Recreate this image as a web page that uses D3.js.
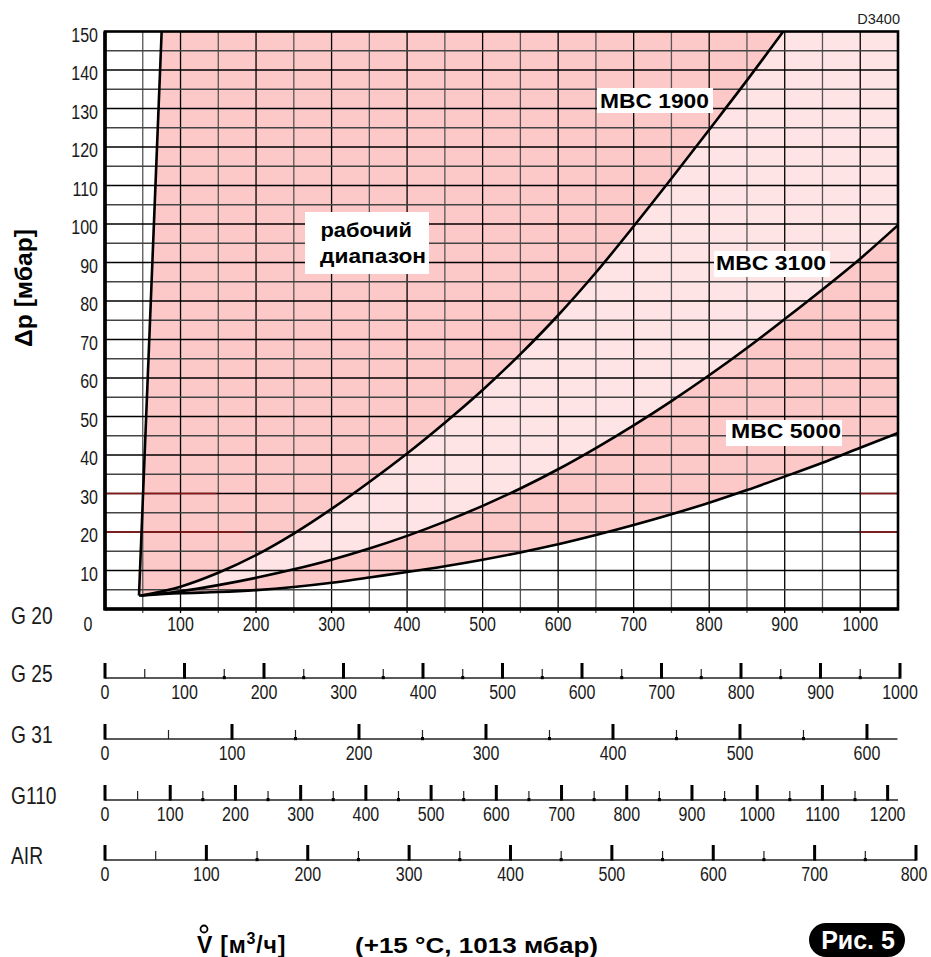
<!DOCTYPE html>
<html>
<head>
<meta charset="utf-8">
<script src="https://cdn.jsdelivr.net/npm/d3@7"></script>
<style>
  body { margin: 0; background: #fff; }
</style>
</head>
<body>
<div id="chart"></div>
<script>
// G20 flow [m3/h] vs pressure drop [mbar]
const flow = [48, 100, 150, 200, 250, 300, 350, 400, 450, 500, 550, 600, 650, 700, 750, 800, 850, 900, 950, 1000, 1050];
const mbc1900Flow = [48, 100, 150, 200, 250, 300, 350, 400, 450, 500, 550, 600, 650, 700, 750, 800, 850, 898];
const mbc1900Dp = [3.5, 5.8, 9.4, 14, 19.6, 26, 33, 40.4, 48.4, 56.9, 66.2, 76.3, 87.4, 99.4, 111.8, 124.5, 137.3, 150];
const mbc3100Dp = [3.5, 4.6, 6.2, 8.1, 10.3, 12.8, 15.7, 19, 22.7, 26.8, 31.3, 36.3, 41.8, 47.7, 54, 60.7, 67.8, 75.3, 83, 91, 99.7];
const mbc5000Dp = [3.5, 4.1, 4.4, 4.9, 5.7, 6.8, 8.2, 9.6, 11.1, 12.8, 14.7, 16.8, 19.2, 21.8, 24.6, 27.6, 30.9, 34.4, 38, 41.9, 45.7];
const limitFlow = [45, 75];
const limitDp = [3.5, 150];

const xTicks = [100, 200, 300, 400, 500, 600, 700, 800, 900, 1000];
const yTicks = [10, 20, 30, 40, 50, 60, 70, 80, 90, 100, 110, 120, 130, 140, 150];

// other gases, flow relative to G20
const gasNames = ["G 25", "G 31", "G110", "AIR"];
const gasFactors = [0.95, 0.5947, 1.158, 0.745];
const gasMax = [1000, 624, 1216, 800];
const gasLabels = [
  [0, 100, 200, 300, 400, 500, 600, 700, 800, 900, 1000],
  [0, 100, 200, 300, 400, 500, 600],
  [0, 100, 200, 300, 400, 500, 600, 700, 800, 900, 1000, 1100, 1200],
  [0, 100, 200, 300, 400, 500, 600, 700, 800]
];

const width = 931, height = 957;
const sans = "'Liberation Sans', Arial, Helvetica, sans-serif";
const squeeze = 0.8; // condensed look for the thin labels

let svg = d3.select("#chart").append("svg")
  .attr("width", width).attr("height", height);

let x = d3.scaleLinear().domain([0, 1050]).range([105, 898]);
let y = d3.scaleLinear().domain([0, 150]).range([609, 31.5]);

// thin condensed text, drawn from a scaled origin
const thin = (sel, px) => sel
  .style("font-family", sans).style("font-size", px + "px").attr("fill", "#1a1a1a");
const at = (tx, ty) => "translate(" + tx + "," + ty + ") scale(" + squeeze + ",1)";

const pts = (fx, dy) => fx.map((v, i) => [v, dy[i]]);
let c1900 = pts(mbc1900Flow, mbc1900Dp),
    c3100 = pts(flow, mbc3100Dp),
    c5000 = pts(flow, mbc5000Dp),
    limit = pts(limitFlow, limitDp);

let line = d3.line().x(d => x(d[0])).y(d => y(d[1])).curve(d3.curveCatmullRom.alpha(0.5));
const back = p => line(p.slice().reverse()).replace(/^M/, "L");
const xMax = x.domain()[1], yMax = y.domain()[1];

// working range fill (dark) and the band between 1900 and 3100 (light)
let darkPath = "M" + x(limit[0][0]) + "," + y(limit[0][1]) +
  "L" + x(limit[1][0]) + "," + y(limit[1][1]) +
  "L" + x(xMax) + "," + y(yMax) +
  "L" + x(xMax) + "," + y(c5000[c5000.length - 1][1]) +
  back(c5000) + "Z";
let lightPath = line(c1900) +
  "L" + x(xMax) + "," + y(yMax) +
  "L" + x(xMax) + "," + y(c3100[c3100.length - 1][1]) +
  back(c3100) + "Z";

svg.append("path").attr("d", darkPath).attr("fill", "#fdc8c8");
svg.append("path").attr("d", lightPath).attr("fill", "#fee4e4");

// grid
let grid = svg.append("g");
grid.selectAll(".vg").data(d3.range(50, xMax, 50)).enter().append("line")
  .attr("x1", d => x(d)).attr("x2", d => x(d))
  .attr("y1", y(0) + 4).attr("y2", y(yMax))
  .attr("stroke", d => d % 100 === 0 ? "#000" : "#555")
  .attr("stroke-width", 1.3);
grid.selectAll(".hg").data(d3.range(5, yMax, 5)).enter().append("line")
  .attr("x1", x(0)).attr("x2", x(xMax))
  .attr("y1", d => y(d)).attr("y2", d => y(d))
  .attr("stroke", d => d % 10 === 0 ? "#000" : "#444")
  .attr("stroke-width", 1.3);

// dark red pieces of the 20 / 30 rows
const accentRows = [[30, 0, 148], [20, 0, 185], [30, 1000, 1050], [20, 1000, 1050]];
grid.selectAll(".acc").data(accentRows).enter().append("line")
  .attr("x1", d => x(d[1])).attr("x2", d => x(d[2]))
  .attr("y1", d => y(d[0])).attr("y2", d => y(d[0]))
  .attr("stroke", "#8b1414").attr("stroke-width", 1.4);

// curves
let curves = svg.append("g").attr("fill", "none").attr("stroke", "#000").attr("stroke-width", 2.6);
[c1900, c3100, c5000].forEach(c => curves.append("path").attr("d", line(c)));
curves.append("path").attr("d", d3.line().x(d => x(d[0])).y(d => y(d[1]))(limit));
curves.append("path").attr("d", d3.line().x(d => x(d[0])).y(d => y(d[1]))([limit[0], c1900[0]]));

// frame
svg.append("rect")
  .attr("x", x(0)).attr("y", y(yMax))
  .attr("width", x(xMax) - x(0)).attr("height", y(0) - y(yMax))
  .attr("fill", "none").attr("stroke", "#000").attr("stroke-width", 2.6);
svg.append("line").attr("x1", x(0)).attr("x2", x(0)).attr("y1", y(yMax)).attr("y2", y(0) + 1.5)
  .attr("stroke", "#000").attr("stroke-width", 3.6);
svg.append("line").attr("x1", x(0)).attr("x2", x(xMax) + 1).attr("y1", y(0)).attr("y2", y(0))
  .attr("stroke", "#000").attr("stroke-width", 3.4);

// tick labels
thin(svg.append("g").selectAll("text").data(yTicks).enter().append("text")
  .attr("transform", d => at(98, y(d) + 10))
  .attr("text-anchor", "end"), 20)
  .text(d => d);
thin(svg.append("g").selectAll("text").data(xTicks).enter().append("text")
  .attr("transform", d => at(x(d), 631))
  .attr("text-anchor", "middle"), 20)
  .text(d => d);
thin(svg.append("text").attr("transform", at(88, 631)).attr("text-anchor", "middle"), 20).text("0");
thin(svg.append("text").attr("transform", at(11, 624)), 24).text("G 20");

svg.append("text").attr("x", 900).attr("y", 24).attr("text-anchor", "end")
  .style("font-family", sans).style("font-size", "14.5px").attr("fill", "#222").text("D3400");

// y title
svg.append("text")
  .attr("transform", "translate(32,288) rotate(-90)")
  .attr("text-anchor", "middle")
  .attr("textLength", 118).attr("lengthAdjust", "spacingAndGlyphs")
  .style("font-family", sans).style("font-size", "23px").style("font-weight", "bold")
  .text("Δp [мбар]");

// labels on the chart
const notes = [
  { box: [597, 88, 116, 25], lines: [["MBC 1900", 600, 107.5, 109]] },
  { box: [714, 251, 116, 26], lines: [["MBC 3100", 716, 270, 110]] },
  { box: [726, 420, 116, 26], lines: [["MBC 5000", 731, 437.5, 110]] },
  { box: [305, 212, 124, 62], lines: [["рабочий", 320.5, 236.5, 91.5], ["диапазон", 320, 263, 106]] }
];
notes.forEach(n => {
  svg.append("rect").attr("x", n.box[0]).attr("y", n.box[1])
    .attr("width", n.box[2]).attr("height", n.box[3]).attr("fill", "#fff");
  n.lines.forEach(l => {
    svg.append("text").attr("x", l[1]).attr("y", l[2])
      .attr("textLength", l[3]).attr("lengthAdjust", "spacingAndGlyphs")
      .style("font-family", sans).style("font-size", "21px").style("font-weight", "bold")
      .text(l[0]);
  });
});

// conversion scales for the other gases
const rowY = [678, 739, 800, 860];
gasNames.forEach((name, i) => {
  let s = d3.scaleLinear().domain([0, xMax * gasFactors[i]]).range(x.range());
  let g = svg.append("g");
  let ay = rowY[i];
  g.append("line").attr("x1", s(0)).attr("x2", s(gasMax[i]))
    .attr("y1", ay).attr("y2", ay).attr("stroke", "#222").attr("stroke-width", 1.3);
  g.selectAll(".maj").data(gasLabels[i]).enter().append("rect")
    .attr("x", d => s(d) - 1.5).attr("y", ay - 15).attr("width", 3).attr("height", 15.6)
    .attr("fill", "#000");
  let minors = d3.range(50, gasMax[i], 100);
  g.selectAll(".min").data(minors).enter().append("line")
    .attr("x1", d => s(d)).attr("x2", d => s(d))
    .attr("y1", ay - 9).attr("y2", ay)
    .attr("stroke", "#222").attr("stroke-width", 1.2);
  g.selectAll(".dot").data(minors.slice(1)).enter().append("rect")
    .attr("x", d => s(d) - 1.5).attr("y", ay - 2).attr("width", 3).attr("height", 3.2)
    .attr("fill", "#000");
  thin(g.selectAll(".lab").data(gasLabels[i]).enter().append("text")
    .attr("transform", d => at(Math.min(s(d), width - 17), ay + 20.5))
    .attr("text-anchor", "middle"), 20)
    .text(d => d);
  thin(g.append("text").attr("transform", at(11, ay + 4)), 24).text(name);
});

// x title
svg.append("circle").attr("cx", 204).attr("cy", 929).attr("r", 3.5)
  .attr("fill", "none").attr("stroke", "#000").attr("stroke-width", 1.8);
let xt = svg.append("text").attr("x", 197).attr("y", 953)
  .style("font-family", sans).style("font-size", "23px").style("font-weight", "bold")
  .style("letter-spacing", "0.8px");
xt.append("tspan").text("V [м");
xt.append("tspan").attr("dy", -9).style("font-size", "16px").text("3");
xt.append("tspan").attr("dy", 9).text("/ч]");
svg.append("text").attr("x", 355).attr("y", 953)
  .attr("textLength", 243).attr("lengthAdjust", "spacingAndGlyphs")
  .style("font-family", sans).style("font-size", "22px").style("font-weight", "bold")
  .text("(+15 °C, 1013 мбар)");

// figure badge
svg.append("rect").attr("x", 809).attr("y", 923).attr("width", 96).attr("height", 34)
  .attr("rx", 17).attr("fill", "#000");
svg.append("text").attr("x", 858).attr("y", 948.5).attr("text-anchor", "middle")
  .style("font-family", sans).style("font-size", "25px").style("font-weight", "bold")
  .attr("fill", "#fff").text("Рис. 5");
</script>
</body>
</html>
